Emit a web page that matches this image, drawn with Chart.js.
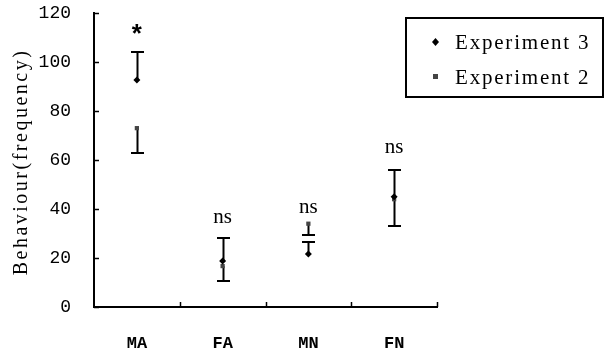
<!DOCTYPE html>
<html><head><meta charset="utf-8">
<script src="https://cdn.jsdelivr.net/npm/chart.js@4"></script>
<style>html,body{margin:0;padding:0;background:#fff}#wrap{width:605px;height:353px}</style>
</head><body><div id="wrap"><canvas id="c" width="605" height="353"></canvas></div>
<script>
const categories = ["MA", "FA", "MN", "FN"];
const exp3Values = [92.7, 18.8, 21.6, 45];
const exp3ErrUp = [104, 28, 26.7, 56];
const exp2Values = [73, 16.7, 34, 44];
const exp2ErrDown = [63, 10.6, 29.4, 33];
const sigLabels = ["*", "ns", "ns", "ns"];
const sigPositions = [112, 36.5, 40.5, 65];
const yTicks = [0, 20, 40, 60, 80, 100, 120];
const seriesNames = ["Experiment 3", "Experiment 2"];
const yTitle = "Behaviour(frequency)";

const errBars = {
  id: 'errBars',
  beforeDatasetsDraw(chart) {
    const ctx = chart.ctx, xs = chart.scales.x, ys = chart.scales.y, a = chart.chartArea;
    ctx.save();
    ctx.strokeStyle = '#000';
    ctx.lineWidth = 1.5;
    yTicks.forEach(v => {
      const y = Math.round(ys.getPixelForValue(v)) + 0.5;
      ctx.beginPath(); ctx.moveTo(a.left, y); ctx.lineTo(a.left + 5, y); ctx.stroke();
    });
    for (let i = 1; i <= categories.length; i++) {
      const xx = Math.round(xs.getPixelForValue(i - 0.5)) + 0.5;
      ctx.beginPath(); ctx.moveTo(xx, a.bottom); ctx.lineTo(xx, a.bottom - 5); ctx.stroke();
    }
    ctx.lineWidth = 2;
    const bar = (i, from, to) => {
      const x = Math.round(xs.getPixelForValue(i)) + 0.5;
      const y1 = ys.getPixelForValue(from), y2 = Math.round(ys.getPixelForValue(to));
      ctx.beginPath(); ctx.moveTo(x, y1); ctx.lineTo(x, y2); ctx.stroke();
      ctx.beginPath(); ctx.moveTo(x - 6.5, y2); ctx.lineTo(x + 6.5, y2); ctx.stroke();
    };
    categories.forEach((c, i) => { bar(i, exp3Values[i], exp3ErrUp[i]); bar(i, exp2Values[i], exp2ErrDown[i]); });
    ctx.restore();
  },
  afterDatasetsDraw(chart) {
    const ctx = chart.ctx, xs = chart.scales.x, ys = chart.scales.y;
    ctx.save();
    ctx.fillStyle = '#000';
    ctx.textAlign = 'center'; ctx.textBaseline = 'middle';
    categories.forEach((c, i) => {
      ctx.font = sigLabels[i] === '*' ? 'bold 26px "Liberation Mono"' : '21px "Liberation Serif"';
      ctx.fillText(sigLabels[i], xs.getPixelForValue(i), ys.getPixelForValue(sigPositions[i]) + (sigLabels[i] === '*' ? 4 : 0));
    });
    ctx.save();
    ctx.translate(22, 162); ctx.rotate(-Math.PI / 2);
    ctx.font = '20px "Liberation Serif"';
    ctx.letterSpacing = '2.5px';
    ctx.fillText(yTitle, 0, 0);
    ctx.restore();
    ctx.strokeStyle = '#000';
    ctx.lineWidth = 2;
    ctx.strokeRect(406, 18, 197, 79);
    ctx.font = '21px "Liberation Serif"'; ctx.textAlign = 'left';
    ctx.letterSpacing = '1.8px';
    ctx.fillText(seriesNames[0], 455, 43);
    ctx.fillText(seriesNames[1], 455, 78);
    ctx.fillStyle = '#000';
    ctx.beginPath(); ctx.moveTo(435.5, 38); ctx.lineTo(439, 42); ctx.lineTo(435.5, 46); ctx.lineTo(432, 42); ctx.closePath(); ctx.fill();
    ctx.fillStyle = '#444';
    ctx.fillRect(433, 74, 5, 5);
    ctx.restore();
  }
};

new Chart(document.getElementById('c'), {
  type: 'line',
  data: {
    labels: categories,
    datasets: [
      { label: seriesNames[0], data: exp3Values, showLine: false, pointStyle: 'rectRot', pointRadius: 3.5, backgroundColor: '#000', borderColor: '#000', borderWidth: 0 },
      { label: seriesNames[1], data: exp2Values, showLine: false, pointStyle: 'rect', pointRadius: 3, backgroundColor: '#444', borderColor: '#444', borderWidth: 0 }
    ]
  },
  options: {
    responsive: false, animation: false, devicePixelRatio: 1,
    layout: { padding: { left: 0, right: 168, top: 13, bottom: 0 } },
    plugins: { legend: { display: false }, tooltip: { enabled: false } },
    scales: {
      x: {
        offset: true,
        grid: { display: false, drawTicks: false },
        border: { display: true, color: '#000', width: 2 },
        ticks: { color: '#000', font: { family: 'Liberation Mono', size: 17, weight: 'bold' }, padding: 27 },
        afterFit(s) { s.height = 46; s.paddingLeft = 0; s.paddingRight = 0; }
      },
      y: {
        min: 0, max: 120,
        grid: { display: false, drawTicks: false },
        border: { display: true, color: '#000', width: 2 },
        ticks: { stepSize: 20, color: '#000', font: { family: 'Liberation Mono', size: 18 }, padding: 23 },
        afterFit(s) { s.width = 94; s.paddingTop = 0; s.paddingBottom = 0; }
      }
    }
  },
  plugins: [errBars]
});
</script></body></html>
